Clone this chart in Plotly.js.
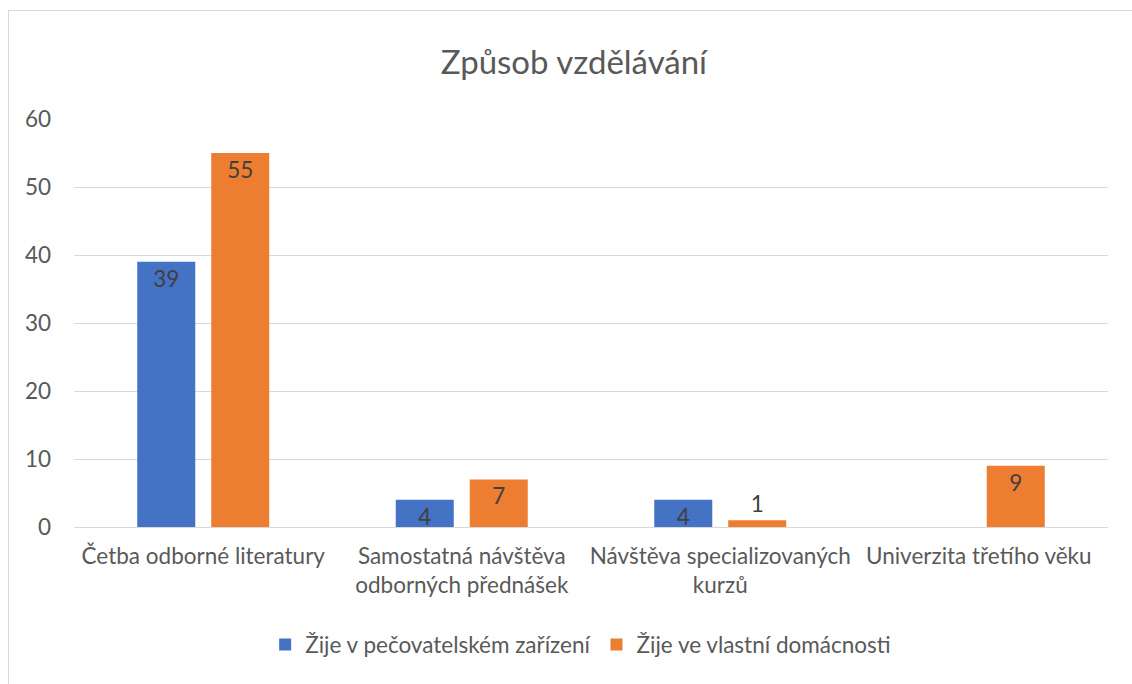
<!DOCTYPE html>
<html>
<head>
<meta charset="utf-8">
<script src="https://cdn.plot.ly/plotly-3.0.1.min.js"></script>
<style>
  html, body { margin: 0; padding: 0; overflow: hidden; background: #fff; }
  #chart { position: absolute; left: 0; top: 0; width: 1132px; height: 684px; }
  #frame { position: absolute; left: 8px; top: 10px; width: 1300px; height: 900px;
           border: 1px solid #d9d9d9; pointer-events: none; }
</style>
</head>
<body>
<div id="chart"></div>
<div id="frame"></div>
<script>
const categories = [
  "Četba odborné literatury",
  "Samostatná návštěva<br>odborných přednášek",
  "Návštěva specializovaných<br>kurzů",
  "Univerzita třetího věku"
];
const seriesNames = ["Žije v pečovatelském zařízení", "Žije ve vlastní domácnosti"];
const careHome = [39, 4, 4, null];
const ownHome = [55, 7, 1, 9];
const yTicks = [0, 10, 20, 30, 40, 50, 60];

const FONT = "Lato, 'Open Sans', sans-serif";
const GREY = "#595959";
const FS = 22.5;

function barTrace(name, values, color) {
  return {
    type: "bar",
    name: name,
    x: categories,
    y: values,
    marker: { color: color },
    text: values.map(v => v === null ? "" : String(v)),
    textposition: "auto",
    insidetextanchor: "end",
    textangle: 0,
    constraintext: "none",
    textfont: { family: FONT, size: FS, color: "#404040" },
    insidetextfont: { family: FONT, size: FS, color: "#404040" },
    outsidetextfont: { family: FONT, size: FS, color: "#404040" },
    cliponaxis: false,
    hoverinfo: "skip"
  };
}

const data = [
  barTrace(seriesNames[0], careHome, "#4472C4"),
  barTrace(seriesNames[1], ownHome, "#ED7D31")
];

const layout = {
  width: 1132,
  height: 684,
  paper_bgcolor: "#ffffff",
  plot_bgcolor: "#ffffff",
  margin: { l: 74, r: 24, t: 119, b: 157, pad: 0 },
  font: { family: FONT, color: GREY, size: FS },
  title: {
    text: "Způsob vzdělávání",
    font: { family: FONT, size: 33, color: GREY },
    x: 0.507, xanchor: "center", xref: "container",
    y: 0.909, yanchor: "middle", yref: "container"
  },
  barmode: "group",
  bargap: 0.4275,
  bargroupgap: 0.216,
  xaxis: {
    type: "category",
    tickfont: { family: FONT, size: FS, color: GREY },
    ticks: "",
    showline: false,
    showgrid: false,
    ticklabelstandoff: 13,
    fixedrange: true
  },
  yaxis: {
    range: [0, 60],
    tickvals: yTicks,
    ticktext: yTicks.map(String),
    tickfont: { family: FONT, size: FS, color: GREY },
    showgrid: true,
    gridcolor: "#d9d9d9",
    gridwidth: 1,
    zeroline: true,
    zerolinecolor: "#d9d9d9",
    zerolinewidth: 1,
    showline: false,
    ticks: "",
    ticklabelstandoff: 22,
    fixedrange: true
  },
  showlegend: true,
  legend: {
    orientation: "h",
    x: 0.49, xanchor: "center",
    y: -0.289, yanchor: "middle",
    font: { family: FONT, size: FS, color: GREY },
    itemclick: false,
    itemdoubleclick: false
  }
};

Plotly.newPlot("chart", data, layout, { displayModeBar: false, staticPlot: true });
</script>
</body>
</html>
